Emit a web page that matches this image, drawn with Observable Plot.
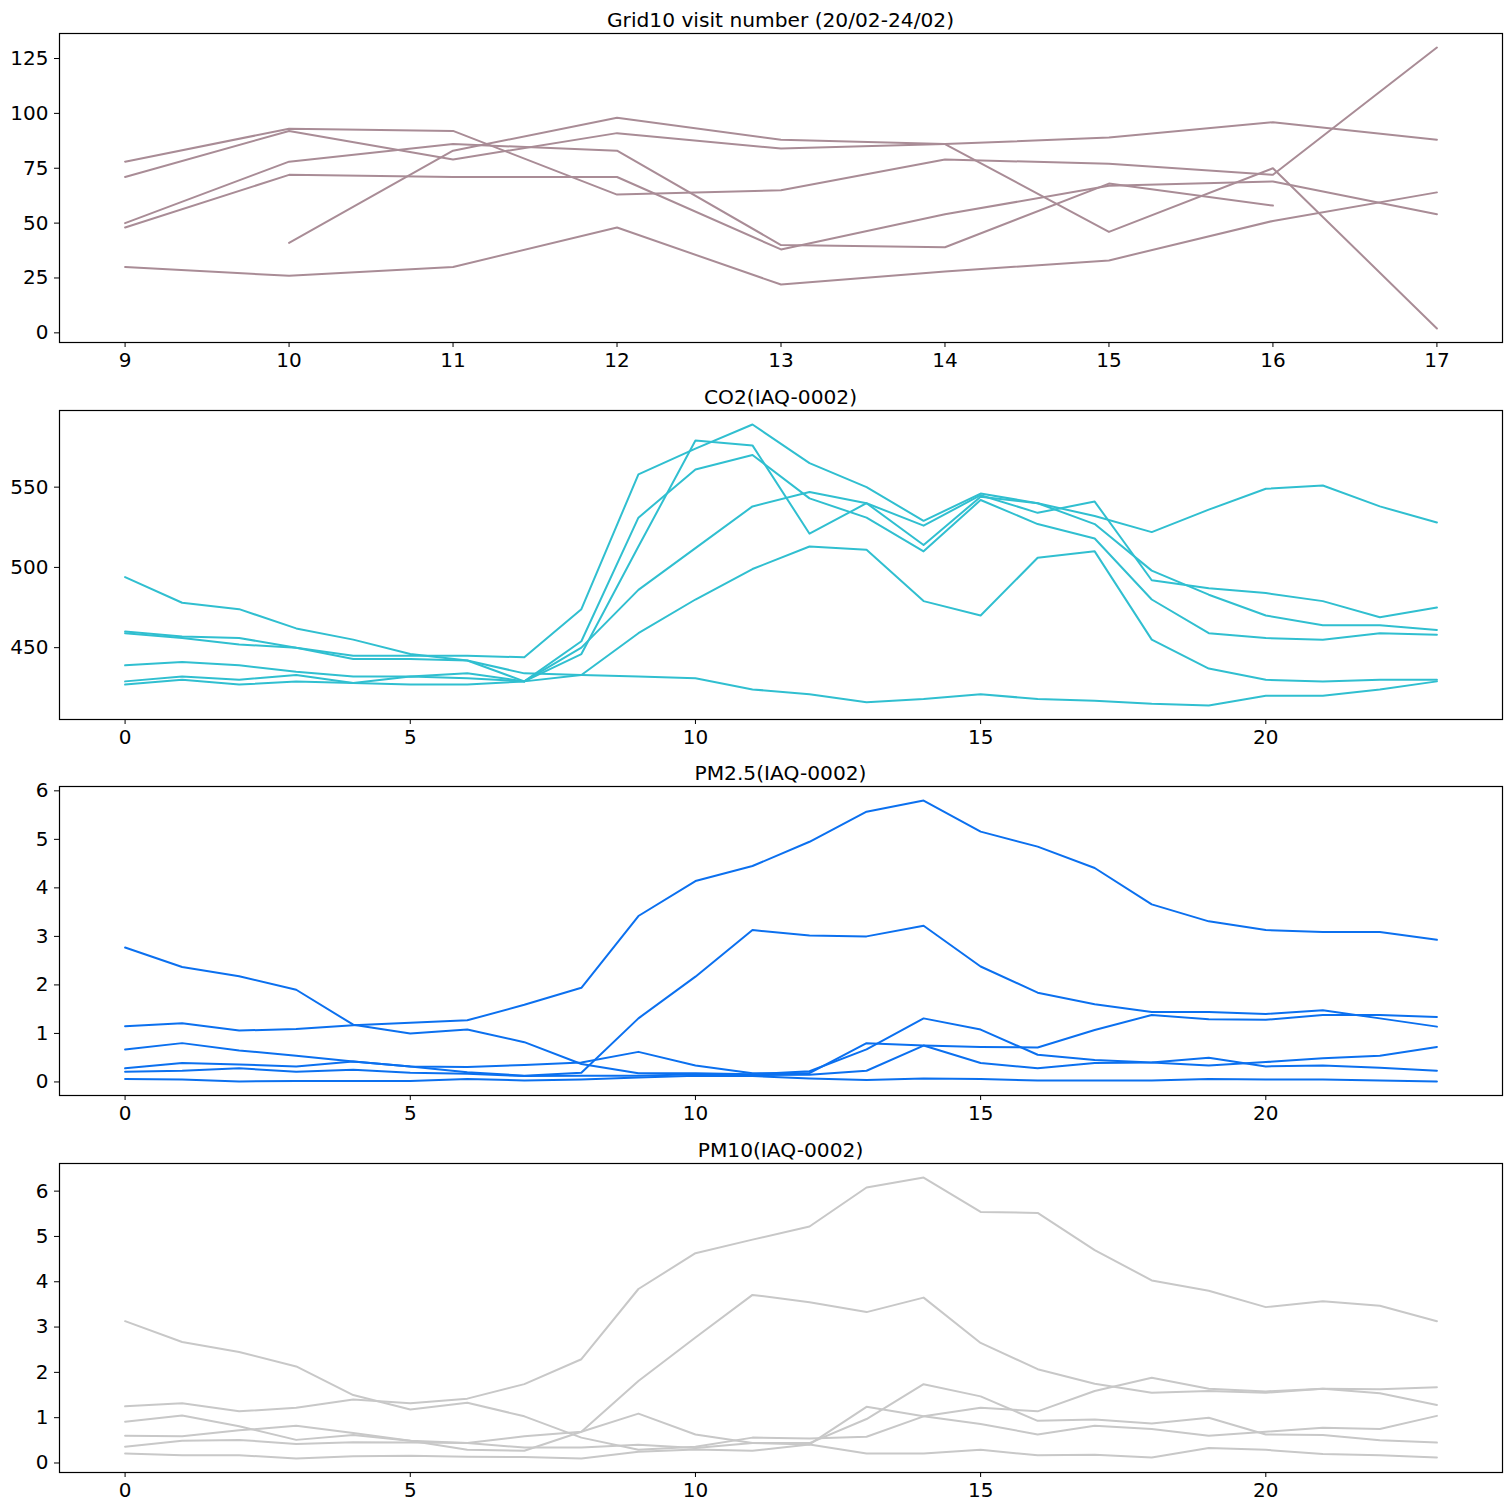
<!DOCTYPE html>
<html><head><meta charset="utf-8">
<script src="https://cdn.jsdelivr.net/npm/d3@7"></script>
<script src="https://cdn.jsdelivr.net/npm/@observablehq/plot@0.6"></script>
<style>
body{margin:0;background:#fff;}
#chart{position:relative;width:1511px;height:1511px;font-family:"DejaVu Sans",sans-serif;background:#fff;}
.title{position:absolute;left:59px;width:1443px;text-align:center;font-size:20.2px;line-height:24px;color:#000;white-space:nowrap;}
.panel{position:absolute;left:0;}
</style></head><body><div id="chart"></div>
<script>
// ---- Data ----
const gridDays = [9, 10, 11, 12, 13, 14, 15, 16, 17];
const gridVisits = [
  [78, 93, 92, 63, 65, 79, 77, 72, 130],
  [71, 92, 79, 91, 84, 86, 89, 96, 88],
  [50, 78, 86, 83, 40, 39, 68, 58, null],
  [48, 72, 71, 71, 38, 54, 67, 69, 54],
  [30, 26, 30, 48, 22, 28, 33, 51, 64],
  [null, 41, 83, 98, 88, 86, 46, 75, 2]
];
const hours = d3.range(0, 24);
const co2 = [
  [494,478,474,462,455,446,442,434,433,432,431,424,421,416,418,421,418,417,415,414,420,420,424,429],
  [460,457,456,450,445,445,445,444,474,558,574,589,565,550,529,546,540,532,522,536,549,551,538,528],
  [459,456,452,450,443,443,442,429,454,531,561,570,543,531,510,542,527,518,480,459,456,455,459,458],
  [439,441,439,435,432,432,434,429,446,513,579,576,521,540,514,544,540,527,498,483,470,464,464,461],
  [429,432,430,433,428,432,431,429,450,486,512,538,547,540,526,545,534,541,492,487,484,479,469,475],
  [427,430,427,429,428,427,427,429,433,459,480,499,513,511,479,470,506,510,455,437,430,429,430,430]
];
const pm25 = [
  [1.15,1.21,1.06,1.09,1.17,1.22,1.27,1.59,1.94,3.42,4.14,4.45,4.95,5.57,5.80,5.16,4.85,4.41,3.66,3.31,3.13,3.09,3.09,2.93],
  [2.77,2.37,2.18,1.90,1.18,1.00,1.08,0.82,0.37,0.18,0.18,0.16,0.22,0.67,1.31,1.08,0.56,0.45,0.40,0.34,0.41,0.49,0.54,0.72],
  [0.67,0.80,0.65,0.54,0.42,0.32,0.20,0.13,0.19,1.31,2.17,3.13,3.02,3.00,3.22,2.38,1.84,1.60,1.44,1.44,1.40,1.48,1.31,1.14],
  [0.28,0.39,0.36,0.32,0.42,0.32,0.31,0.35,0.40,0.62,0.34,0.18,0.18,0.80,0.75,0.72,0.71,1.07,1.38,1.29,1.28,1.38,1.38,1.34],
  [0.21,0.23,0.28,0.21,0.25,0.19,0.17,0.12,0.13,0.13,0.16,0.14,0.15,0.23,0.75,0.39,0.28,0.39,0.40,0.50,0.32,0.34,0.29,0.23],
  [0.06,0.05,0.01,0.02,0.02,0.02,0.06,0.03,0.05,0.09,0.13,0.12,0.07,0.04,0.07,0.06,0.03,0.03,0.03,0.06,0.05,0.05,0.03,0.01]
];
const pm10 = [
  [1.25,1.32,1.14,1.22,1.40,1.32,1.42,1.74,2.29,3.84,4.63,4.93,5.22,6.08,6.30,5.54,5.52,4.70,4.03,3.80,3.44,3.57,3.47,3.13],
  [3.13,2.67,2.45,2.13,1.50,1.18,1.33,1.03,0.56,0.29,0.36,0.56,0.54,0.58,1.03,1.22,1.14,1.59,1.88,1.64,1.58,1.64,1.63,1.67],
  [0.91,1.05,0.81,0.51,0.62,0.49,0.29,0.27,0.69,1.81,2.77,3.71,3.55,3.33,3.65,2.65,2.07,1.75,1.55,1.59,1.55,1.64,1.54,1.28],
  [0.60,0.59,0.72,0.82,0.66,0.49,0.44,0.59,0.69,1.09,0.63,0.44,0.41,1.24,1.03,0.86,0.63,0.82,0.75,0.60,0.69,0.78,0.75,1.04],
  [0.36,0.49,0.51,0.42,0.46,0.45,0.44,0.34,0.34,0.40,0.33,0.44,0.44,0.97,1.74,1.47,0.93,0.96,0.87,1.00,0.63,0.62,0.50,0.45],
  [0.21,0.17,0.17,0.10,0.15,0.16,0.14,0.13,0.10,0.25,0.30,0.27,0.41,0.21,0.21,0.29,0.17,0.18,0.12,0.33,0.29,0.20,0.17,0.12]
];
const titles = ["Grid10 visit number (20/02-24/02)", "CO2(IAQ-0002)", "PM2.5(IAQ-0002)", "PM10(IAQ-0002)"];
const gridXTicks = [9, 10, 11, 12, 13, 14, 15, 16, 17];
const gridYTicks = [0, 25, 50, 75, 100, 125];
const hourTicks = [0, 5, 10, 15, 20];
const co2Ticks = [450, 500, 550];
const pmTicks = [0, 1, 2, 3, 4, 5, 6];
const colors = ["#a98c96", "#30bfd0", "#0b70ef", "#c8c8c8"];

// ---- Layout ----
const chart = document.getElementById("chart");
const plotTops = [33, 410, 786, 1163];
const MT = 14, MB = 42, PH = 309;

function panel(i, xs, series, xTicks, yTicks) {
  const rows = [];
  series.forEach((s, k) => s.forEach((v, j) => rows.push({x: xs[j], y: v, k})));
  const defined = rows.filter(d => d.y != null);
  const xe = d3.extent(xs), ye = d3.extent(defined, d => d.y);
  const px = (xe[1] - xe[0]) * 0.05, py = (ye[1] - ye[0]) * 0.05;
  const svg = Plot.plot({
    width: 1511,
    height: MT + PH + MB,
    marginTop: MT, marginBottom: MB, marginLeft: 59, marginRight: 9,
    style: {fontFamily: "DejaVu Sans, sans-serif", fontSize: "20px", background: "white", color: "black", overflow: "visible"},
    x: {domain: [xe[0] - px, xe[1] + px], ticks: xTicks, tickFormat: d => String(d), label: null, tickSize: 5, tickPadding: 5},
    y: {domain: [ye[0] - py, ye[1] + py], ticks: yTicks, tickFormat: d => String(d), label: null, tickSize: 5, tickPadding: 6},
    marks: [
      Plot.line(rows, {x: "x", y: "y", z: "k", stroke: colors[i], strokeWidth: 2}),
      Plot.frame({stroke: "black", strokeWidth: 1.2})
    ]
  });
  const wrap = document.createElement("div");
  wrap.className = "panel";
  wrap.style.top = (plotTops[i] - MT) + "px";
  wrap.appendChild(svg);
  chart.appendChild(wrap);
  const t = document.createElement("div");
  t.className = "title";
  t.style.top = (plotTops[i] - 25) + "px";
  t.textContent = titles[i];
  chart.appendChild(t);
}

panel(0, gridDays, gridVisits, gridXTicks, gridYTicks);
panel(1, hours, co2, hourTicks, co2Ticks);
panel(2, hours, pm25, hourTicks, pmTicks);
panel(3, hours, pm10, hourTicks, pmTicks);
</script>
</body></html>
